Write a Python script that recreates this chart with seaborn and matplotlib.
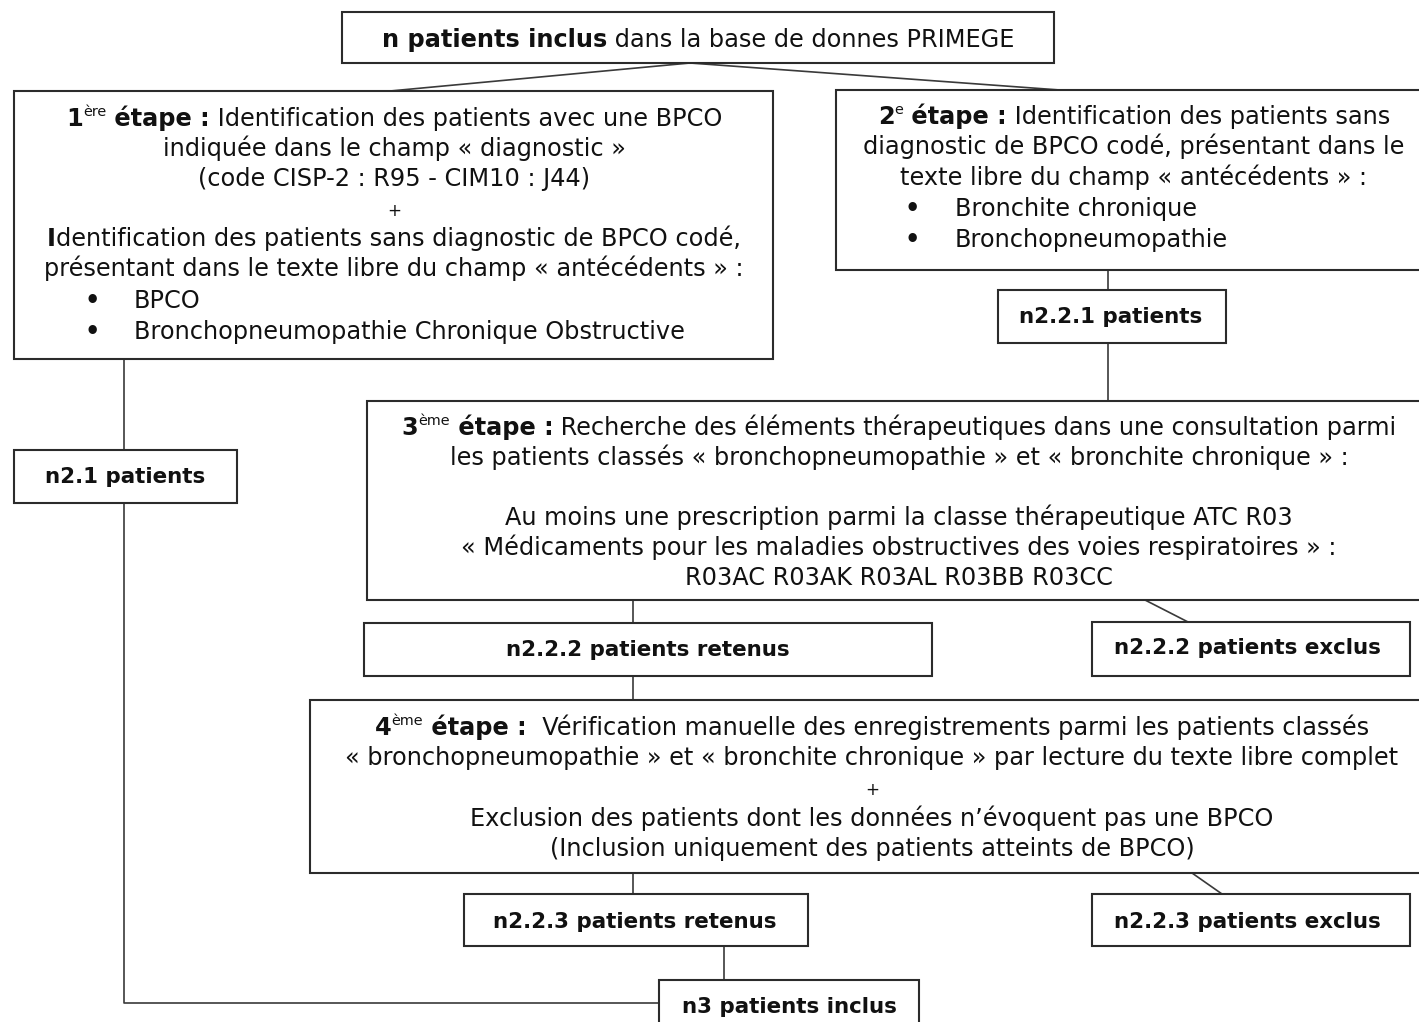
import matplotlib
matplotlib.use("Agg")
import matplotlib.pyplot as plt
from matplotlib.patches import Rectangle
import seaborn as sns

# ---- texte des boites (runs : texte, style  n=normal b=gras s=exposant p=petit)
top_runs = [("n patients inclus", "b"), (" dans la base de donnes PRIMEGE", "n")]

etape1_lines = [
    [("1", "b"), ("ère", "s"), (" étape :", "b"), (" Identification des patients avec une BPCO", "n")],
    [("indiquée dans le champ « diagnostic »", "n")],
    [("(code CISP-2 : R95 - CIM10 : J44)", "n")],
    [("+", "p")],
    [("I", "b"), ("dentification des patients sans diagnostic de BPCO codé,", "n")],
    [("présentant dans le texte libre du champ « antécédents » :", "n")],
]
etape1_bullets = ["BPCO", "Bronchopneumopathie Chronique Obstructive"]

etape2_lines = [
    [("2", "b"), ("e", "s"), (" étape :", "b"), (" Identification des patients sans", "n")],
    [("diagnostic de BPCO codé, présentant dans le", "n")],
    [("texte libre du champ « antécédents » :", "n")],
]
etape2_bullets = ["Bronchite chronique", "Bronchopneumopathie"]

etape3_lines = [
    [("3", "b"), ("ème", "s"), (" étape :", "b"),
     (" Recherche des éléments thérapeutiques dans une consultation parmi", "n")],
    [("les patients classés « bronchopneumopathie » et « bronchite chronique » :", "n")],
    [("", "n")],
    [("Au moins une prescription parmi la classe thérapeutique ATC R03", "n")],
    [("« Médicaments pour les maladies obstructives des voies respiratoires » :", "n")],
    [("R03AC R03AK R03AL R03BB R03CC", "n")],
]

etape4_lines = [
    [("4", "b"), ("ème", "s"), (" étape :", "b"),
     ("  Vérification manuelle des enregistrements parmi les patients classés", "n")],
    [("« bronchopneumopathie » et « bronchite chronique » par lecture du texte libre complet", "n")],
    [("+", "p")],
    [("Exclusion des patients dont les données n’évoquent pas une BPCO", "n")],
    [("(Inclusion uniquement des patients atteints de BPCO)", "n")],
]

small_labels = ["n2.2.1 patients", "n2.1 patients", "n2.2.2 patients retenus",
                "n2.2.2 patients exclus", "n2.2.3 patients retenus",
                "n2.2.3 patients exclus", "n3 patients inclus"]

# ---- mise en page (coordonnees en pixels de l'image)
W, H = 1419, 1022
EDGE = "#2b2b2b"

sns.set_theme(style="white")
plt.rcParams["font.family"] = ["DejaVu Sans"]

fig = plt.figure(figsize=(W / 100, H / 100), dpi=100)
ax = fig.add_axes([0, 0, 1, 1])
ax.set_xlim(0, W)
ax.set_ylim(H, 0)
ax.axis("off")
renderer = fig.canvas.get_renderer()


def run_width(txt, size, weight):
    t = ax.text(0, 0, txt, fontsize=size, fontweight=weight)
    w = t.get_window_extent(renderer).width
    t.remove()
    return w


# taille de police ajustee sur la largeur des lignes de la figure d'origine
FS = 10 * 504 / run_width("Identification des patients avec une BPCO", 10, "normal")
FSB = 10 * 284 / run_width("n2.2.2 patients retenus", 10, "bold")


def draw_runs(runs, xc, yc, size=None, ha="center"):
    size = size or FS
    px = size * 100 / 72
    base = yc + 0.36 * px
    parts = []
    for txt, st in runs:
        if st == "s":
            sz, wt, dy = size * 0.6, "normal", -0.42 * px
        elif st == "p":
            sz, wt, dy = size * 0.7, "normal", 0
        else:
            sz, wt, dy = size, ("bold" if st == "b" else "normal"), 0
        parts.append((txt, sz, wt, dy, run_width(txt, sz, wt) if txt else 0))
    total = sum(p[4] for p in parts)
    x = xc - total / 2 if ha == "center" else xc
    for txt, sz, wt, dy, w in parts:
        ax.text(x, base + dy, txt, fontsize=sz, fontweight=wt, ha="left",
                va="baseline", color="#111111")
        x += w


def box(x0, y0, x1, y1):
    ax.add_patch(Rectangle((x0, y0), x1 - x0, y1 - y0, facecolor="white",
                           edgecolor=EDGE, lw=1.5, zorder=2))


def line(xs, ys):
    ax.plot(xs, ys, color="#3a3a3a", lw=1.2, zorder=1)


# connecteurs
line([690, 390], [63, 91])
line([690, 1060], [63, 90])
line([124, 124, 660], [359, 1003, 1003])
line([1108, 1108], [270, 401])
line([633, 633], [600, 700])
line([1145, 1190], [600, 623])
line([633, 633], [873, 894])
line([1192, 1222], [873, 894])
line([724, 724], [946, 980])

# boite du haut
box(342, 12, 1054, 63)
draw_runs(top_runs, 698, 38)

# etape 1
box(14, 91, 773, 359)
for i, runs in enumerate(etape1_lines):
    draw_runs(runs, 394, 117 + 30 * i)
for i, txt in enumerate(etape1_bullets):
    y = 299 + 31.5 * i
    draw_runs([("•", "b")], 92, y)
    draw_runs([(txt, "n")], 134, y, ha="left")

# etape 2
box(836, 90, 1430, 270)
for i, runs in enumerate(etape2_lines):
    draw_runs(runs, 1134, 115 + 30.5 * i)
for i, txt in enumerate(etape2_bullets):
    y = 207 + 31 * i
    draw_runs([("•", "b")], 912, y)
    draw_runs([(txt, "n")], 955, y, ha="left")

# etape 3
box(367, 401, 1430, 600)
for i, runs in enumerate(etape3_lines):
    draw_runs(runs, 899, 426 + 30 * i)

# etape 4
box(310, 700, 1430, 873)
for i, runs in enumerate(etape4_lines):
    draw_runs(runs, 872, 726 + 30.3 * i)

# petites boites
small_boxes = [(998, 290, 1226, 343), (14, 450, 237, 503), (364, 623, 932, 676),
               (1092, 622, 1410, 676), (464, 894, 808, 946),
               (1092, 894, 1410, 946), (659, 980, 919, 1035)]
small_centers = [(1111, 315), (125, 475), (648, 648), (1247, 646),
                 (635, 920), (1247, 920), (789, 1005)]
for (x0, y0, x1, y1), (xc, yc), lab in zip(small_boxes, small_centers, small_labels):
    box(x0, y0, x1, y1)
    draw_runs([(lab, "b")], xc, yc, size=FSB)

fig.savefig("out.png", dpi=100, facecolor="white")
